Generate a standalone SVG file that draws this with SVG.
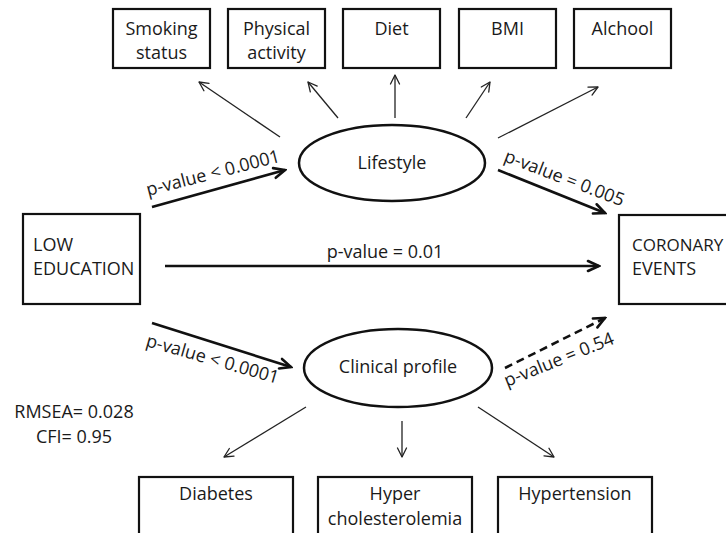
<svg xmlns="http://www.w3.org/2000/svg" width="726" height="533" viewBox="0 0 726 533">
<style>
text{font-family:"Open Sans","Noto Sans","Liberation Sans",sans-serif;font-size:18px;fill:#1a1a1a}
.box{fill:#fff;stroke:#111;stroke-width:2.2}
.ell{fill:#fff;stroke:#111;stroke-width:2.5}
.thin{stroke:#222;stroke-width:1.3;fill:none;marker-end:url(#ah)}
.thick{stroke:#111;stroke-width:2.6;fill:none;marker-end:url(#ahb)}
.dash{stroke-dasharray:8 5}
.c{text-anchor:middle}
</style>
<defs>
<marker id="ah" viewBox="-12 -6 14 12" refX="0" refY="0" markerWidth="14" markerHeight="12" markerUnits="userSpaceOnUse" orient="auto">
<path d="M-9,-4.5 L0,0 L-9,4.5" fill="none" stroke="#222" stroke-width="1.3" stroke-linecap="round" stroke-linejoin="round"/>
</marker>
<marker id="ahb" viewBox="-14 -8 16 16" refX="0" refY="0" markerWidth="16" markerHeight="16" markerUnits="userSpaceOnUse" orient="auto">
<path d="M-11,-5 L0,0 L-11,5" fill="none" stroke="#111" stroke-width="2.6" stroke-linecap="round" stroke-linejoin="miter"/>
</marker>
</defs>

<g id="connectors">
<line class="thin" x1="280" y1="137" x2="199" y2="82"/>
<line class="thin" x1="338" y1="118" x2="308" y2="82"/>
<line class="thin" x1="395" y1="118" x2="395" y2="75"/>
<line class="thin" x1="466" y1="118" x2="490" y2="82"/>
<line class="thin" x1="498" y1="138" x2="598" y2="87"/>
<line class="thin" x1="306" y1="407" x2="224" y2="457"/>
<line class="thin" x1="402" y1="421" x2="402" y2="457"/>
<line class="thin" x1="478" y1="407" x2="554" y2="457"/>
<line class="thick" x1="152" y1="207" x2="285" y2="170"/>
<line class="thick" x1="498" y1="170" x2="605" y2="213"/>
<line class="thick" x1="165" y1="266" x2="599" y2="266"/>
<line class="thick" x1="152" y1="323" x2="291" y2="367"/>
<line class="thick dash" x1="505" y1="368" x2="605" y2="318"/>
<text transform="translate(148,196) rotate(-14.5)">p-value &lt; 0.0001</text>
<text transform="translate(503,161) rotate(21)">p-value = 0.005</text>
<text class="c" x="385" y="258">p-value = 0.01</text>
<text transform="translate(145,346) rotate(16)">p-value &lt; 0.0001</text>
<text transform="translate(507,387) rotate(-22)">p-value = 0.54</text>
</g>

<g id="smoking"><rect class="box" x="113" y="9" width="97" height="59"/><text class="c" x="161.5" y="35">Smoking</text><text class="c" x="161.5" y="59">status</text></g>
<g id="physical"><rect class="box" x="228" y="9" width="97" height="59"/><text class="c" x="276.5" y="35">Physical</text><text class="c" x="276.5" y="59">activity</text></g>
<g id="diet"><rect class="box" x="343" y="9" width="97" height="59"/><text class="c" x="391.5" y="35">Diet</text></g>
<g id="bmi"><rect class="box" x="459" y="9" width="97" height="59"/><text class="c" x="507.5" y="35">BMI</text></g>
<g id="alchool"><rect class="box" x="574" y="9" width="97" height="59"/><text class="c" x="622.5" y="35">Alchool</text></g>

<g id="lifestyle"><ellipse class="ell" cx="392" cy="163" rx="93" ry="38"/><text class="c" x="392" y="169">Lifestyle</text></g>
<g id="clinical"><ellipse class="ell" cx="398" cy="368" rx="94" ry="39"/><text class="c" x="398" y="373">Clinical profile</text></g>

<g id="low-education"><rect class="box" x="23" y="214" width="117" height="90"/><text x="33" y="251">LOW</text><text x="33" y="275">EDUCATION</text></g>
<g id="coronary"><rect class="box" x="619" y="215" width="130" height="89"/><text x="632" y="251" style="font-size:17px">CORONARY</text><text x="632" y="275">EVENTS</text></g>

<g id="fit"><text class="c" x="74" y="418">RMSEA= 0.028</text><text class="c" x="74" y="443">CFI= 0.95</text></g>

<g id="diabetes"><rect class="box" x="139" y="477" width="154" height="70"/><text class="c" x="216" y="500">Diabetes</text></g>
<g id="hyperchol"><rect class="box" x="318" y="477" width="154" height="70"/><text class="c" x="395" y="500">Hyper</text><text class="c" x="395" y="525">cholesterolemia</text></g>
<g id="hypertension"><rect class="box" x="498" y="477" width="154" height="70"/><text class="c" x="575" y="500">Hypertension</text></g>
</svg>
